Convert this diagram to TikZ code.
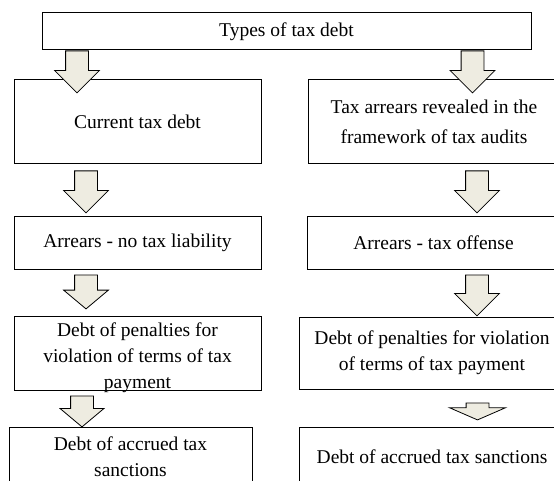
\documentclass[tikz,border=0pt]{standalone}
\usepackage{fontspec}
\setmainfont{Liberation Serif}
\usepackage{tikz}
\usetikzlibrary{shapes.arrows}
\definecolor{tanbg}{HTML}{EEECE1}

\begin{document}
\begin{tikzpicture}[x=1pt, y=-1pt]
    \tikzstyle{txt} = [align=center, font=\fontsize{19.5}{26}\selectfont]
    \tikzstyle{box} = [txt, draw, line width=1pt, inner sep=0pt]
    \tikzstyle{down} = [single arrow, draw, line width=0.8pt, fill=tanbg, rotate=-90, anchor=tail, inner xsep=0pt, inner ysep=11pt, single arrow head extend=11pt, single arrow tip angle=90]
    \useasboundingbox (0,0) rectangle (554,481);
    \clip (0,0) rectangle (554,481);
    \node [box, minimum width=489pt, minimum height=37pt] at (286.5,31.5) (types) {Types of tax debt};
    \node [box, minimum width=247pt, minimum height=84pt] at (137.5,122) (cur) {Current tax debt};
    \node [box, minimum width=252pt, minimum height=84pt] at (434,122) (aud) {Tax arrears revealed in the\\[4pt]framework of tax audits};
    \node [box, minimum width=247pt, minimum height=52pt] at (137.5,243) (nol) {Arrears - no tax liability};
    \node [box, minimum width=253pt, minimum height=52pt] at (433.5,243) (off) {Arrears - tax offense};
    \node [box, minimum width=247pt, minimum height=74pt,
        label={[txt, yshift=-4.5pt]center:{Debt of penalties for\\violation of terms of tax\\payment}}] at (137.5,353) (lpen) {};
    \node [box, minimum width=266pt, minimum height=72pt] at (432,353) (rpen) {Debt of penalties for violation\\of terms of tax payment};
    \node [box, minimum width=243pt, minimum height=60pt] at (130.5,457) (lacc) {Debt of accrued tax\\sanctions};
    \node [box, minimum width=266pt, minimum height=60pt] at (432,457) (racc) {Debt of accrued tax sanctions};
    % block arrows
    \node [down, minimum height=42pt] at (types.south -| 77,0) (d1) {};
    \node [down, minimum height=42pt] at (types.south -| 472.5,0) (d2) {};
    \node [down, minimum height=42pt] at ([yshift=-6pt]cur.south -| 86,0) (d3) {};
    \node [down, minimum height=42pt] at ([yshift=-6pt]aud.south -| 477,0) (d4) {};
    \node [down, minimum height=34pt, single arrow tip angle=100] at ([yshift=-5pt]nol.south -| 86,0) (d5) {};
    \node [down, minimum height=41pt] at ([yshift=-5pt]off.south -| 477,0) (d6) {};
    \node [down, minimum height=31pt, single arrow head extend=10.5pt, single arrow tip angle=100] at ([yshift=-5pt]lpen.south -| 82,0) (d7) {};
    \node [down, minimum height=17pt, single arrow head extend=16.5pt, single arrow tip angle=133] at ([yshift=-13pt]rpen.south -| 477.5,0) (d8) {};
\end{tikzpicture}
\end{document}
